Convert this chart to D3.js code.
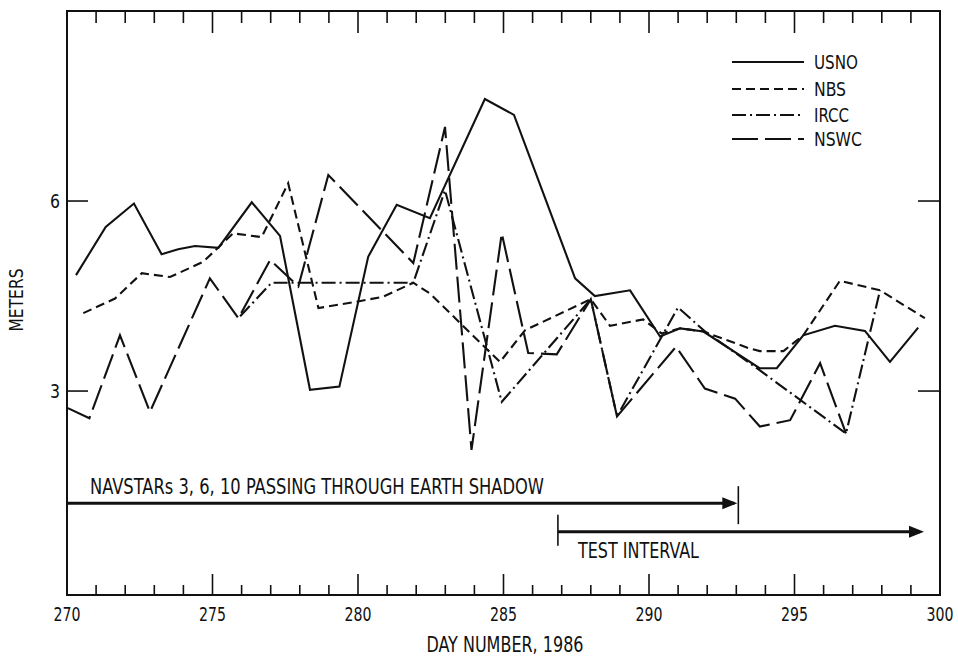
<!DOCTYPE html>
<html>
<head>
<meta charset="utf-8">
<script src="https://cdn.jsdelivr.net/npm/d3@7"></script>
<style>
  html, body { margin: 0; padding: 0; background: #fff; }
  svg { display: block; }
  text { font-family: "Liberation Sans Narrow", "DejaVu Sans Condensed", "Roboto Condensed", sans-serif; fill: #111; }
</style>
</head>
<body>
<svg id="chart" width="958" height="658"></svg>
<script>
// Daily position error by timing source, days 270-300 of 1986 (metres)
const usnoDays = [270.31, 271.33, 272.30, 273.25, 273.82, 274.40, 275.20, 276.35, 277.32, 278.35, 279.36, 280.35, 281.33, 282.47, 284.36, 285.36, 287.46, 288.14, 289.35, 290.38, 291.07, 291.87, 293.80, 294.39, 295.30, 296.39, 297.42, 298.28, 299.25];
const usnoVals = [4.83, 5.59, 5.96, 5.16, 5.24, 5.29, 5.26, 5.98, 5.45, 3.02, 3.07, 5.12, 5.94, 5.73, 7.61, 7.36, 4.78, 4.50, 4.59, 3.86, 3.99, 3.94, 3.36, 3.36, 3.88, 4.03, 3.95, 3.46, 4.00];

const nbsDays = [270.56, 271.65, 272.57, 273.54, 274.68, 275.71, 276.69, 277.60, 278.64, 279.95, 280.87, 281.90, 282.47, 284.88, 285.74, 288.00, 288.66, 289.80, 290.43, 291.07, 291.87, 293.47, 293.81, 294.62, 295.30, 296.56, 297.94, 299.48];
const nbsVals = [4.23, 4.46, 4.86, 4.80, 5.04, 5.49, 5.43, 6.28, 4.31, 4.41, 4.49, 4.71, 4.54, 3.46, 3.96, 4.45, 4.03, 4.13, 3.91, 3.99, 3.94, 3.67, 3.63, 3.63, 3.88, 4.74, 4.59, 4.15];

const irccDays = [275.95, 277.03, 281.90, 282.99, 284.94, 288.00, 288.90, 291.00, 291.90, 293.80, 296.77, 297.94];
const irccVals = [4.18, 4.71, 4.71, 6.17, 2.83, 4.45, 2.60, 4.32, 3.95, 3.33, 2.33, 4.59];

const nswcDays = [270.03, 270.77, 271.82, 272.85, 274.91, 275.89, 276.98, 277.95, 278.98, 281.90, 282.99, 283.90, 284.94, 285.85, 286.83, 288.00, 288.90, 290.93, 291.92, 292.96, 293.81, 294.85, 295.88, 296.77];
const nswcVals = [2.73, 2.57, 3.88, 2.67, 4.78, 4.15, 5.07, 4.65, 6.41, 5.02, 7.17, 2.07, 5.49, 3.60, 3.58, 4.45, 2.60, 3.70, 3.04, 2.88, 2.44, 2.54, 3.44, 2.33];

const seriesNames = ["USNO", "NBS", "IRCC", "NSWC"];
const seriesDash = ["none", "9,5", "14,4,2,4", "26,7"];

// Axis ticks
const xTickDays = d3.range(270, 301);
const xLabelTicks = [270, 275, 280, 285, 290, 295, 300];
const yTicks = [3, 6];

// Interval annotations (days)
const shadowInterval = [270, 293.07];
const testInterval = [286.87, 299.45];
const shadowLabel = "NAVSTARs 3, 6, 10 PASSING THROUGH EARTH SHADOW";
const testLabel = "TEST INTERVAL";

const svg = d3.select("#chart");
const plotLeft = 67, plotRight = 940, plotTop = 11, plotBottom = 595;
const x = d3.scaleLinear().domain([270, 300]).range([plotLeft, plotRight]);
const y = d3.scaleLinear().domain([-0.22, 9.0]).range([plotBottom, plotTop]);

const ink = "#111";

// Frame
svg.append("rect")
  .attr("x", plotLeft).attr("y", plotTop)
  .attr("width", plotRight - plotLeft).attr("height", plotBottom - plotTop)
  .attr("fill", "none").attr("stroke", ink).attr("stroke-width", 2);

// Day ticks along the bottom (pointing up) and top (pointing down)
const isMajor = d => d % 5 === 0;
const ticks = svg.append("g").attr("stroke", ink).attr("stroke-width", 1.6);
ticks.selectAll("line.bt").data(xTickDays.slice(1, -1)).join("line")
  .attr("class", "bt")
  .attr("x1", d => x(d)).attr("x2", d => x(d))
  .attr("y1", plotBottom).attr("y2", d => plotBottom - (isMajor(d) ? 21 : 10));
ticks.selectAll("line.tt").data(xTickDays.slice(1, -1)).join("line")
  .attr("class", "tt")
  .attr("x1", d => x(d)).attr("x2", d => x(d))
  .attr("y1", plotTop).attr("y2", d => plotTop + (isMajor(d) ? 22 : 12));

// Metre ticks on both sides, pointing inward
ticks.selectAll("line.lt").data(yTicks).join("line")
  .attr("class", "lt")
  .attr("x1", plotLeft).attr("x2", plotLeft + 21)
  .attr("y1", d => y(d)).attr("y2", d => y(d));
ticks.selectAll("line.rt").data(yTicks).join("line")
  .attr("class", "rt")
  .attr("x1", plotRight).attr("x2", plotRight - 22)
  .attr("y1", d => y(d)).attr("y2", d => y(d));

// Tick labels
svg.append("g").selectAll("text").data(xLabelTicks).join("text")
  .attr("x", d => x(d)).attr("y", 621)
  .attr("text-anchor", "middle")
  .attr("font-size", 19)
  .attr("textLength", 27).attr("lengthAdjust", "spacingAndGlyphs")
  .text(d => d);

svg.append("g").selectAll("text").data(yTicks).join("text")
  .attr("x", 60).attr("y", d => y(d) + 7)
  .attr("text-anchor", "end")
  .attr("font-size", 19)
  .attr("textLength", 10).attr("lengthAdjust", "spacingAndGlyphs")
  .text(d => d);

// Axis titles
svg.append("text")
  .attr("x", 505).attr("y", 652)
  .attr("text-anchor", "middle")
  .attr("font-size", 21)
  .attr("textLength", 157).attr("lengthAdjust", "spacingAndGlyphs")
  .text("DAY NUMBER, 1986");

svg.append("text")
  .attr("transform", "translate(23,300) rotate(-90)")
  .attr("text-anchor", "middle")
  .attr("font-size", 20)
  .attr("textLength", 63).attr("lengthAdjust", "spacingAndGlyphs")
  .text("METERS");

// Series lines
const series = [
  { name: seriesNames[0], days: usnoDays, vals: usnoVals, dash: seriesDash[0] },
  { name: seriesNames[1], days: nbsDays, vals: nbsVals, dash: seriesDash[1] },
  { name: seriesNames[2], days: irccDays, vals: irccVals, dash: seriesDash[2] },
  { name: seriesNames[3], days: nswcDays, vals: nswcVals, dash: seriesDash[3] }
];

const line = d3.line().x(d => x(d[0])).y(d => y(d[1]));

svg.append("g").selectAll("path").data(series).join("path")
  .attr("d", s => line(s.days.map((d, i) => [d, s.vals[i]])))
  .attr("fill", "none")
  .attr("stroke", ink)
  .attr("stroke-width", 2.1)
  .attr("stroke-linejoin", "miter")
  .attr("stroke-dasharray", s => s.dash === "none" ? null : s.dash);

// Legend
const legendRows = [62, 89, 115, 139];
const legendWidths = [44, 32, 35, 48];
const legend = svg.append("g");
legend.selectAll("line").data(series).join("line")
  .attr("x1", 732).attr("x2", 804)
  .attr("y1", (d, i) => legendRows[i]).attr("y2", (d, i) => legendRows[i])
  .attr("stroke", ink).attr("stroke-width", 2.1)
  .attr("stroke-dasharray", s => s.dash === "none" ? null : s.dash);
legend.selectAll("text").data(series).join("text")
  .attr("x", 814).attr("y", (d, i) => legendRows[i] + 7)
  .attr("font-size", 20)
  .attr("textLength", (d, i) => legendWidths[i]).attr("lengthAdjust", "spacingAndGlyphs")
  .text(s => s.name);

// Interval arrows
function arrowHead(g, tipX, yy) {
  g.append("path")
    .attr("d", `M${tipX},${yy} L${tipX - 15},${yy - 6} L${tipX - 15},${yy + 6} Z`)
    .attr("fill", ink);
}

const shadowY = y(1.23);
const ann = svg.append("g");
ann.append("line")
  .attr("x1", x(shadowInterval[0])).attr("x2", x(shadowInterval[1]) - 4)
  .attr("y1", shadowY).attr("y2", shadowY)
  .attr("stroke", ink).attr("stroke-width", 3);
arrowHead(ann, x(shadowInterval[1]) - 1, shadowY);
ann.append("line")
  .attr("x1", x(shadowInterval[1])).attr("x2", x(shadowInterval[1]))
  .attr("y1", shadowY - 17).attr("y2", shadowY + 21)
  .attr("stroke", ink).attr("stroke-width", 1.6);
ann.append("text")
  .attr("x", 90).attr("y", 494)
  .attr("font-size", 21)
  .attr("textLength", 454).attr("lengthAdjust", "spacingAndGlyphs")
  .text(shadowLabel);

const testY = y(0.78);
ann.append("line")
  .attr("x1", x(testInterval[0])).attr("x2", x(testInterval[1]) - 4)
  .attr("y1", testY).attr("y2", testY)
  .attr("stroke", ink).attr("stroke-width", 3);
arrowHead(ann, x(testInterval[1]), testY);
ann.append("line")
  .attr("x1", x(testInterval[0])).attr("x2", x(testInterval[0]))
  .attr("y1", testY - 17).attr("y2", testY + 14)
  .attr("stroke", ink).attr("stroke-width", 1.6);
ann.append("text")
  .attr("x", 578).attr("y", 558)
  .attr("font-size", 21)
  .attr("textLength", 121).attr("lengthAdjust", "spacingAndGlyphs")
  .text(testLabel);
</script>
</body>
</html>
